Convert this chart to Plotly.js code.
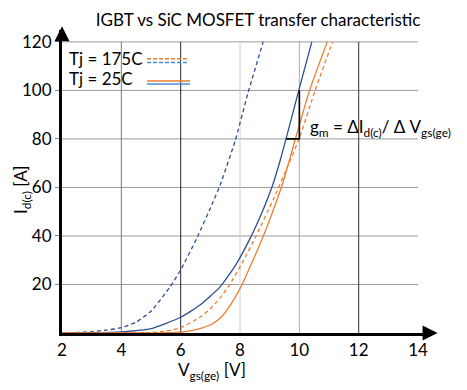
<!DOCTYPE html>
<html>
<head>
<meta charset="utf-8">
<script src="https://cdn.plot.ly/plotly-3.0.1.min.js"></script>
<style>html,body{margin:0;padding:0;background:#fff;}#chart{width:467px;height:390px;}</style>
</head>
<body>
<div id="chart"></div>
<script>
// ---- data ----
const sic175_x = [2, 2.5, 3, 3.5, 4, 4.5, 5, 5.64, 6, 6.54, 7.09, 7.33, 7.83, 8.27, 8.78];
const sic175_y = [0, 0.2, 0.6, 1.2, 2.2, 4.5, 9, 19, 26, 39, 54, 61, 79, 99, 120];

const sic25_x = [2, 3, 4, 5, 6, 6.65, 7.33, 7.85, 8.34, 8.75, 9.1, 9.35, 9.55, 9.98, 10.42];
const sic25_y = [0, 0.1, 0.5, 1.8, 6.5, 11.5, 19, 28, 39, 50, 61, 71, 80, 100, 120];

const igbt175_x = [2, 4, 5, 5.5, 6, 6.65, 7.0, 7.33, 7.63, 8.1, 8.54, 9.12, 9.6, 10.02, 10.53, 11.12];
const igbt175_y = [0, 0, 0.2, 0.8, 2.2, 6.5, 10, 14.5, 19.5, 29.5, 40, 55, 68.5, 81, 100, 120];

const igbt25_x = [2, 5, 6, 6.65, 7.1, 7.4, 7.7, 8.05, 8.4, 8.77, 9.1, 9.42, 9.82, 10.33, 10.94];
const igbt25_y = [0, 0, 0.3, 1.8, 4, 7, 12, 19.5, 29, 39.5, 50, 61, 78, 99.5, 120];

const gm_x = [9.55, 10, 10];
const gm_y = [80, 80, 100];

const xTicks = [2, 4, 6, 8, 10, 12, 14];
const yTicks = [20, 40, 60, 80, 100, 120];
const vGrid = [4, 6, 8, 10, 12];
const vGridColors = ['#7a7a7a', '#262626', '#cfcfcf', '#ababab', '#333333'];

const legendRows = ['Tj = 175C', 'Tj = 25C'];
const titleText = 'IGBT vs SiC MOSFET transfer characteristic';

// ---- styling ----
const ORANGE = '#ED7D31';
const BLUE = '#2F4F91';
const LBLUE = '#4A8FD6';
const FONT = 'Lato, "Open Sans", sans-serif';
const LINE = {width: 1.3, shape: 'spline', smoothing: 0.5};

const traces = [
  {x: sic175_x, y: sic175_y, mode: 'lines', line: Object.assign({color: BLUE, dash: '4px,3px'}, LINE)},
  {x: sic25_x, y: sic25_y, mode: 'lines', line: Object.assign({color: BLUE}, LINE)},
  {x: igbt175_x, y: igbt175_y, mode: 'lines', line: Object.assign({color: ORANGE, dash: '4px,3px'}, LINE)},
  {x: igbt25_x, y: igbt25_y, mode: 'lines', line: Object.assign({color: ORANGE}, LINE)},
  {x: gm_x, y: gm_y, mode: 'lines', line: {color: '#000', width: 1.6}}
];

const shapes = [];
yTicks.forEach(v => shapes.push({type: 'line', xref: 'x', yref: 'y', x0: 2, x1: 14, y0: v, y1: v,
  line: {color: '#9a9a9a', width: 1}, layer: 'below'}));
vGrid.forEach((v, i) => shapes.push({type: 'line', xref: 'x', yref: 'y', x0: v, x1: v, y0: 0, y1: 120,
  line: {color: vGridColors[i], width: 1}, layer: 'below'}));

// legend samples (paper coordinates)
const L = (px) => (px - 62) / 370, T = (py) => (333 - py) / 303;
shapes.push({type: 'line', xref: 'paper', yref: 'paper', x0: L(147), x1: L(187), y0: T(58.7), y1: T(58.7), line: {color: ORANGE, width: 1.5, dash: '4px,2px'}});
shapes.push({type: 'line', xref: 'paper', yref: 'paper', x0: L(147), x1: L(187), y0: T(62.5), y1: T(62.5), line: {color: LBLUE, width: 1.5, dash: '4px,2px'}});
shapes.push({type: 'line', xref: 'paper', yref: 'paper', x0: L(147), x1: L(190), y0: T(81), y1: T(81), line: {color: ORANGE, width: 1.5}});
shapes.push({type: 'line', xref: 'paper', yref: 'paper', x0: L(147), x1: L(190), y0: T(84), y1: T(84), line: {color: LBLUE, width: 1.5}});

const annotations = [
  {xref: 'paper', yref: 'paper', x: L(67), y: T(58), xanchor: 'left', yanchor: 'middle', showarrow: false,
   text: legendRows[0], font: {family: FONT, size: 17, color: '#000'}},
  {xref: 'paper', yref: 'paper', x: L(67), y: T(79), xanchor: 'left', yanchor: 'middle', showarrow: false,
   text: legendRows[1], font: {family: FONT, size: 17, color: '#000'}},
  {xref: 'paper', yref: 'paper', x: L(308), y: T(128), xanchor: 'left', yanchor: 'middle', showarrow: false,
   text: 'g<sub>m</sub> = ΔI<sub>d(c)</sub>/ Δ V<sub>gs(ge)</sub>', font: {family: FONT, size: 17, color: '#000'}},
  {xref: 'paper', yref: 'paper', x: L(212), y: T(371), xanchor: 'center', yanchor: 'middle', showarrow: false,
   text: 'V<sub>gs(ge)</sub> [V]', font: {family: FONT, size: 17, color: '#000'}},
  {xref: 'paper', yref: 'paper', x: L(22), y: T(190), xanchor: 'center', yanchor: 'middle', showarrow: false, textangle: -90,
   text: 'I<sub>d(c)</sub> [A]', font: {family: FONT, size: 17, color: '#000'}},
  // axis arrowheads
  {xref: 'paper', yref: 'paper', x: 1.015, y: 0, ax: -14, ay: 0, text: '', showarrow: true,
   arrowhead: 2, arrowsize: 1, arrowwidth: 3, arrowcolor: '#000'},
  {xref: 'paper', yref: 'paper', x: 0, y: 1.012, ax: 0, ay: 14, text: '', showarrow: true,
   arrowhead: 2, arrowsize: 1, arrowwidth: 3, arrowcolor: '#000'}
];

const layout = {
  width: 467, height: 390,
  margin: {l: 62, r: 35, t: 30, b: 57},
  paper_bgcolor: '#fff', plot_bgcolor: '#fff',
  showlegend: false,
  title: {text: titleText, x: 0.53, xref: 'paper', xanchor: 'center', y: 0.963, yref: 'container', font: {family: FONT, size: 17, color: '#000'}},
  xaxis: {range: [2, 14.47], tickvals: xTicks, ticktext: xTicks.map(String), showgrid: false, zeroline: false,
    showline: true, linecolor: '#000', linewidth: 3, ticks: '', ticklen: 0,
    tickfont: {family: FONT, size: 17, color: '#000'}},
  yaxis: {range: [0, 124.9], tickvals: yTicks, ticktext: yTicks.map(String), showgrid: false, zeroline: false,
    showline: true, linecolor: '#000', linewidth: 3, ticks: 'outside', ticklen: 4, tickcolor: '#888',
    tickfont: {family: FONT, size: 17, color: '#000'}},
  shapes: shapes,
  annotations: annotations
};

Plotly.newPlot('chart', traces, layout, {displayModeBar: false, staticPlot: true});
</script>
</body>
</html>
